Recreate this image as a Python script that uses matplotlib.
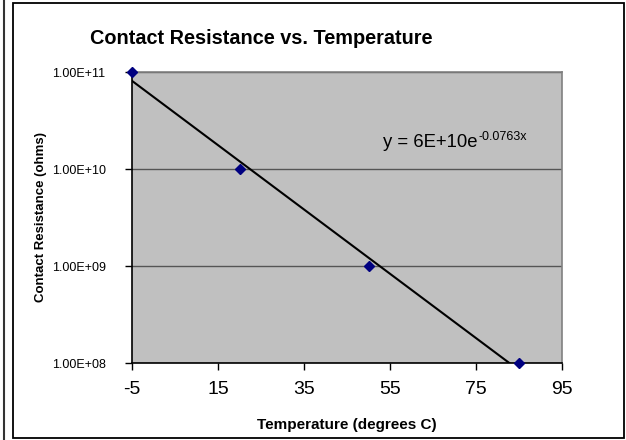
import numpy as np
import matplotlib
matplotlib.use("Agg")
import matplotlib.pyplot as plt
from matplotlib.patches import Rectangle
from matplotlib.lines import Line2D

plt.rcParams['font.family'] = ['Liberation Sans', 'DejaVu Sans']

# Data
temps = [-5, 20, 50, 85]
resistance = [1e11, 1e10, 1e9, 1e8]
x_ticks = [-5, 15, 35, 55, 75, 95]
y_ticks = [1e8, 1e9, 1e10, 1e11]
y_tick_labels = ['1.00E+08', '1.00E+09', '1.00E+10', '1.00E+11']
title = 'Contact Resistance vs. Temperature'
xlabel = 'Temperature (degrees C)'
ylabel = 'Contact Resistance (ohms)'
eq_main = 'y = 6E+10e'
eq_exp = '-0.0763x'

W, H = 626, 440
fig = plt.figure(figsize=(W / 100, H / 100), dpi=100)

# outer frames
fig.add_artist(Line2D([3.5 / W, 3.5 / W], [0, 1], color='#333333', lw=1.5, transform=fig.transFigure))
fig.add_artist(Rectangle((12.5 / W, 2 / H), (624 - 12.5) / W, (437 - 2) / H, fill=False,
                         edgecolor='black', lw=1.3, transform=fig.transFigure))

l, r, t, b = 132, 562, 72, 363
ax = fig.add_axes([l / W, 1 - b / H, (r - l) / W, (b - t) / H])
ax.set_facecolor('#C0C0C0')
ax.set_yscale('log')
ax.set_xlim(-5, 95)
ax.set_ylim(1e8, 1e11)

# exponential trendline fitted to the data
coef = np.polyfit(temps, np.log(resistance), 1)
xs = np.linspace(-5, 85, 200)
ax.plot(xs, np.exp(coef[1]) * np.exp(coef[0] * xs), color='black', lw=1.5, zorder=3)

ax.plot(temps, resistance, linestyle='none', marker='D', markersize=5,
        color='#000080', zorder=4, clip_on=False)

ax.set_xticks(x_ticks)
ax.set_xticklabels([str(v) for v in x_ticks], fontsize=14)
ax.set_yticks(y_ticks)
ax.set_yticklabels(y_tick_labels, fontsize=9)
ax.yaxis.set_minor_locator(matplotlib.ticker.NullLocator())
ax.tick_params(axis='both', direction='out', length=5, width=1, color='black')
ax.tick_params(axis='x', pad=8)
ax.tick_params(axis='y', pad=14)

ax.grid(True, axis='y', which='major', color='#555555', lw=1)
ax.set_axisbelow(True)
for s in ['top', 'right']:
    ax.spines[s].set_color('#808080')
    ax.spines[s].set_linewidth(1.2)
for s in ['left', 'bottom']:
    ax.spines[s].set_color('black')
    ax.spines[s].set_linewidth(1.2)

ax.set_xlabel(xlabel, fontsize=11, fontweight='bold', labelpad=14)
ax.set_ylabel(ylabel, fontsize=9.5, fontweight='bold', labelpad=3)

fig.text((90 + 433) / 2 / W, 1 - 38 / H, title, fontsize=14.3, fontweight='bold',
         ha='center', va='center')

t1 = fig.text(383 / W, 1 - 147 / H, eq_main, fontsize=13.3, ha='left', va='baseline')
ax.annotate(eq_exp, xy=(1, 1), xycoords=t1, xytext=(0.5, 2.5), textcoords='offset points',
            fontsize=9, ha='left', va='top')

fig.savefig('out.png', dpi=100)
